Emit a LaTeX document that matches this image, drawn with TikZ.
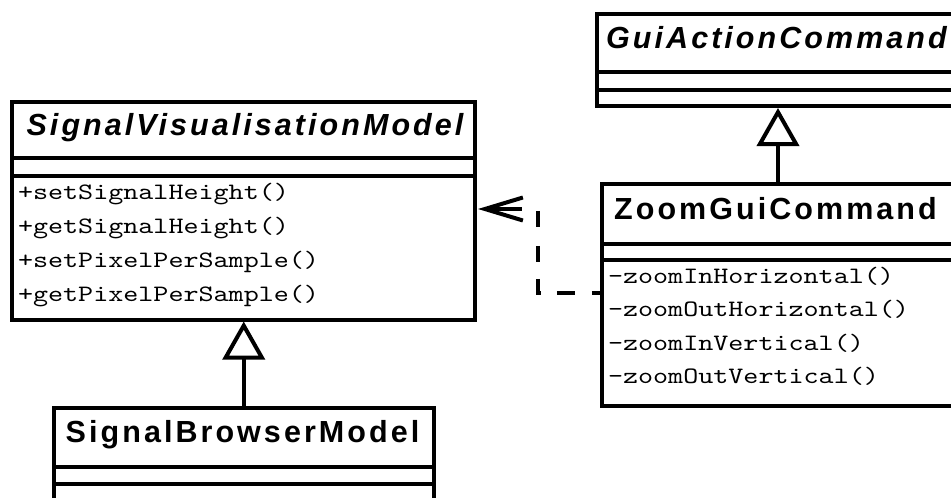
\documentclass[tikz,border=0pt]{standalone}
\usepackage{fontspec}
\usetikzlibrary{arrows.meta}
\newfontfamily\umlsans[LetterSpace=10]{Liberation Sans}
\newfontfamily\umlmono[FakeStretch=1.22]{lmmono10-regular.otf}

\begin{document}
\begin{tikzpicture}[x=1pt, y=-1pt, line width=4pt,
  classbox/.style={draw, rectangle, anchor=north west, inner sep=0pt, outer sep=0pt},
  classname/.style={anchor=base, inner sep=0pt, font=\umlsans\fontsize{30.5}{30.5}\selectfont\bfseries},
  abstractname/.style={anchor=base, inner sep=0pt, font=\umlsans\fontsize{30.5}{30.5}\selectfont\bfseries\itshape},
  member/.style={anchor=base west, inner sep=0pt, font=\umlmono\fontsize{23.5}{23.5}\selectfont},
  generalization/.style={-{Triangle[open, length=38pt, width=42pt]}},
  dependency/.style={{Straight Barb[length=38pt, width=23pt]}-,
    dash pattern=on 35pt off 18pt on 16pt off 19pt on 16pt off 17pt on 17pt off 16pt on 18pt off 17pt on 20pt off 10pt}
]
\useasboundingbox (0,0) rectangle (951,498);
\clip (0,0) rectangle (951,498);

% SignalVisualisationModel
\node[classbox, minimum width=463pt, minimum height=217.5pt] (svm) at (12,102) {};
\draw (svm.west |- 0,158) -- (svm.east |- 0,158);
\draw (svm.west |- 0,176) -- (svm.east |- 0,176);
\node[abstractname] (svm-name) at (245,135.5) {SignalVisualisationModel};
\node[member] (svm-m1) at (16,199) {+setSignalHeight()};
\node[member] (svm-m2) at (16,233) {+getSignalHeight()};
\node[member] (svm-m3) at (16,267) {+setPixelPerSample()};
\node[member] (svm-m4) at (16,301) {+getPixelPerSample()};

% GuiActionCommand
\node[classbox, minimum width=363pt, minimum height=92.5pt] (gac) at (596.5,13.5) {};
\draw (gac.west |- 0,71.5) -- (gac.east |- 0,71.5);
\draw (gac.west |- 0,89.5) -- (gac.east |- 0,89.5);
\node[abstractname] (gac-name) at (776.5,48) {GuiActionCommand};

% ZoomGuiCommand
\node[classbox, minimum width=352pt, minimum height=222.5pt] (zgc) at (602,183.5) {};
\draw (zgc.west |- 0,244) -- (zgc.east |- 0,244);
\draw (zgc.west |- 0,260) -- (zgc.east |- 0,260);
\node[classname] (zgc-name) at (775.5,219) {ZoomGuiCommand};
\node[member] (zgc-m1) at (606,283) {-zoomInHorizontal()};
\node[member] (zgc-m2) at (606,316.5) {-zoomOutHorizontal()};
\node[member] (zgc-m3) at (606,350) {-zoomInVertical()};
\node[member] (zgc-m4) at (606,383) {-zoomOutVertical()};

% SignalBrowserModel
\node[classbox, minimum width=380.5pt, minimum height=122.5pt] (sbm) at (53.5,407.5) {};
\draw (sbm.west |- 0,467) -- (sbm.east |- 0,467);
\draw (sbm.west |- 0,484) -- (sbm.east |- 0,484);
\node[classname] (sbm-name) at (242.5,442) {SignalBrowserModel};

% inheritance
\draw[generalization] (sbm.north) -- ([yshift=-2pt]sbm.north |- svm.south);
\draw[generalization] (zgc.north) -- ([yshift=-2pt]zgc.north |- gac.south);

% usage dependency
\coordinate (kink1) at (538,209);
\coordinate (kink2) at (538,293);
\draw[dependency] ([xshift=3pt]svm.east |- kink1) -- (kink1) -- (kink2) -- (kink2 -| zgc.west);
\end{tikzpicture}
\end{document}
